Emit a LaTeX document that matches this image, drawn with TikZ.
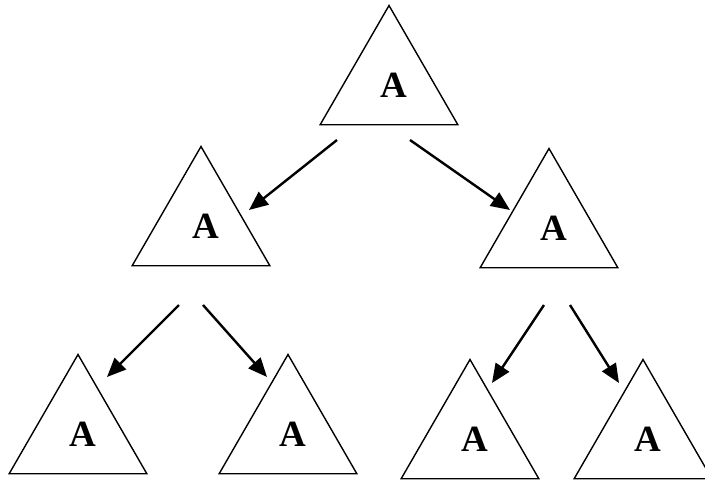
\documentclass[tikz,border=0pt]{standalone}
\usepackage{fontspec}
\setmainfont{Liberation Serif}
\usetikzlibrary{shapes.geometric,arrows.meta}
\begin{document}
\begin{tikzpicture}[
    x=1pt, y=-1pt,
    every node/.style={font=\fontsize{37}{42}\selectfont\bfseries},
    tree/.style={draw, regular polygon, regular polygon sides=3, minimum size=159pt, inner sep=0pt, line width=1.4pt,
        execute at begin node={\hspace*{10pt}}},
    link/.style={line width=2.4pt, -{Triangle[length=19pt, width=16pt]}}
]
\useasboundingbox (0,0) rectangle (705,482);

% trojuhelniky
\node[tree] (T)  at (389,85)  {A};
\node[tree] (L)  at (201,226) {A};
\node[tree] (R)  at (549,228) {A};
\node[tree] (LL) at (78,434)  {A};
\node[tree] (LR) at (288,434) {A};
\node[tree] (RL) at (470,439) {A};
\node[tree] (RR) at (643,439) {A};

% konce sipek
\coordinate (t1) at (337,140); \coordinate (l0) at (249,210);
\coordinate (t2) at (410,140); \coordinate (r0) at (510,210);
\coordinate (l1) at (179,305); \coordinate (ll0) at (107,377);
\coordinate (l2) at (203,305); \coordinate (lr0) at (267,377);
\coordinate (r1) at (544,305); \coordinate (rl0) at (492,383);
\coordinate (r2) at (570,305); \coordinate (rr0) at (619,383);

% sipky
\draw[link] (t1) -- (l0);
\draw[link] (t2) -- (r0);
\draw[link] (l1) -- (ll0);
\draw[link] (l2) -- (lr0);
\draw[link] (r1) -- (rl0);
\draw[link] (r2) -- (rr0);

\end{tikzpicture}
\end{document}
